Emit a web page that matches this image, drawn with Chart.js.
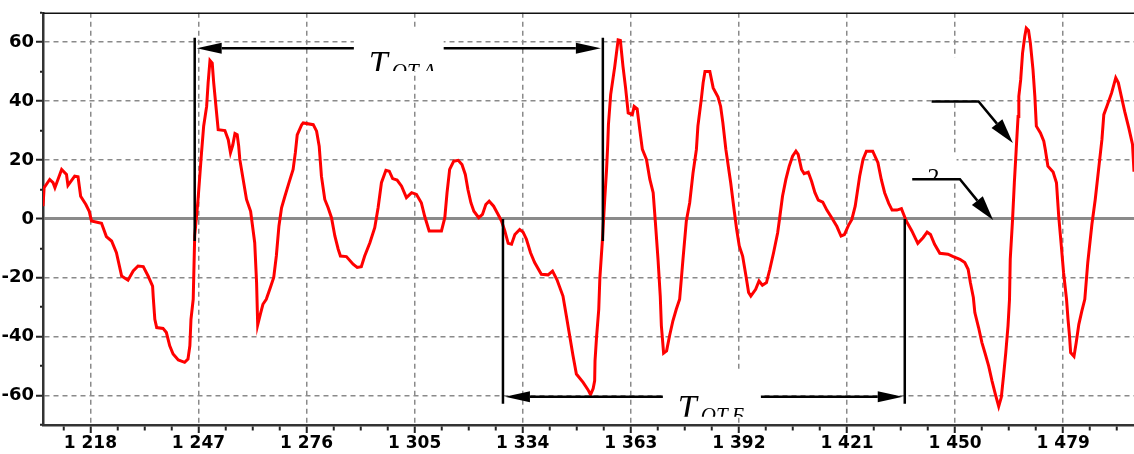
<!DOCTYPE html>
<html>
<head>
<meta charset="utf-8">
<script src="https://cdn.jsdelivr.net/npm/chart.js@4"></script>
<style>
  html, body { margin: 0; padding: 0; background: #fff; overflow: hidden; }
</style>
</head>
<body>
<canvas id="signalChart" width="1134" height="454"></canvas>
<script>
// sample positions and signal values
const sampleX = [
  1205.3, 1205.6, 1207.1, 1208.0, 1208.5, 1210.3, 1211.6, 1212.0, 1213.8, 1214.7,
  1215.4, 1216.8, 1217.7, 1218.3, 1221.0, 1222.3, 1223.7, 1225.0, 1226.4, 1228.1,
  1229.5, 1230.8, 1232.2, 1233.5, 1234.7, 1234.9, 1235.3, 1235.8, 1237.5, 1238.4,
  1239.3, 1240.2, 1241.6, 1243.3, 1244.2, 1244.7, 1245.0, 1245.6, 1246.0, 1246.9,
  1247.8, 1248.4, 1249.2, 1249.6, 1250.1, 1250.7, 1251.1, 1251.7, 1252.3, 1254.1,
  1255.0, 1255.6, 1256.2, 1256.8, 1257.4, 1257.8, 1258.1, 1259.9, 1261.0, 1262.1,
  1262.6, 1262.9, 1263.6, 1264.3, 1265.2, 1266.3, 1267.2, 1267.9, 1268.6, 1269.3,
  1270.2, 1271.3, 1272.4, 1273.0, 1273.5, 1274.7, 1275.1, 1277.8, 1278.7, 1279.4,
  1280.0, 1280.9, 1281.8, 1282.7, 1283.6, 1284.5, 1285.1, 1286.7, 1288.5, 1289.6,
  1290.7, 1291.6, 1293.0, 1294.3, 1295.2, 1296.1, 1297.3, 1298.2, 1299.1, 1300.3,
  1301.5, 1302.8, 1304.2, 1305.5, 1306.8, 1307.7, 1308.9, 1312.2, 1313.1, 1313.7,
  1314.4, 1315.5, 1316.7, 1317.7, 1318.6, 1319.3, 1320.1, 1320.9, 1322.2, 1323.2,
  1324.1, 1325.0, 1326.2, 1327.4, 1328.3, 1329.2, 1330.1, 1331.0, 1331.9, 1333.2,
  1334.1, 1335.0, 1336.1, 1337.2, 1339.0, 1340.8, 1342.0, 1343.2, 1344.8, 1345.7,
  1346.6, 1347.5, 1348.4, 1350.2, 1351.5, 1352.2, 1352.9, 1353.3, 1353.4, 1353.8,
  1354.4, 1354.7, 1355.4, 1356.0, 1356.5, 1356.8, 1357.0, 1357.6, 1358.7, 1359.6,
  1360.2, 1360.9, 1361.6, 1362.3, 1363.4, 1363.9, 1364.7, 1365.4, 1366.1, 1367.2,
  1368.1, 1369.0, 1369.6, 1370.3, 1370.9, 1371.2, 1371.8, 1372.6, 1373.4, 1374.3,
  1375.2, 1376.1, 1377.0, 1377.9, 1378.8, 1379.7, 1380.6, 1381.0, 1381.9, 1382.4,
  1382.9, 1384.2, 1385.1, 1386.4, 1387.1, 1387.7, 1388.5, 1389.8, 1390.7, 1391.4,
  1392.1, 1393.0, 1393.9, 1394.6, 1395.2, 1396.5, 1397.4, 1398.3, 1399.4, 1400.3,
  1401.3, 1402.4, 1403.0, 1403.7, 1404.6, 1405.5, 1406.4, 1407.3, 1407.9, 1408.8,
  1409.5, 1410.6, 1411.5, 1412.4, 1413.3, 1414.5, 1415.6, 1416.9, 1418.3, 1419.4,
  1420.3, 1421.4, 1422.3, 1423.2, 1424.4, 1425.3, 1426.2, 1427.9, 1429.3, 1430.2,
  1431.1, 1432.2, 1433.1, 1434.4, 1435.6, 1436.9, 1438.4, 1440.0, 1441.4, 1442.5,
  1443.4, 1444.5, 1445.9, 1448.1, 1449.5, 1451.3, 1452.6, 1453.5, 1454.1, 1454.9,
  1455.3, 1456.3, 1457.2, 1458.1, 1459.0, 1459.9, 1460.8, 1461.7, 1462.4, 1463.0,
  1463.6, 1464.2, 1464.6, 1464.8, 1465.4, 1465.9, 1466.4, 1466.9, 1467.1, 1467.6,
  1468.1, 1468.7, 1469.1, 1469.7, 1470.2, 1470.9, 1471.4, 1471.8, 1472.9, 1473.8,
  1474.2, 1474.9, 1476.3, 1477.2, 1477.8, 1478.5, 1479.1, 1479.9, 1480.3, 1480.7,
  1481.0, 1481.9, 1482.5, 1483.2, 1484.0, 1484.8, 1485.6, 1486.7, 1487.6, 1488.5,
  1489.4, 1489.9, 1490.8, 1492.0, 1493.1, 1493.8, 1494.6, 1495.5, 1496.6, 1497.6,
  1498.0
];
const signal = [
  4.3, 10.6, 13.4, 12.3, 10.6, 16.8, 15.1, 11.4, 14.5, 14.3,
  7.7, 4.9, 2.6, -0.7, -1.5, -6.0, -7.5, -11.5, -19.4, -20.8,
  -17.7, -16.0, -16.2, -19.4, -22.8, -27.0, -34.1, -36.9, -37.2, -38.6,
  -43.1, -45.9, -47.9, -48.7, -47.6, -43.1, -34.1, -27.3, -5.8, 6.6,
  22.0, 31.5, 38.2, 46.2, 53.8, 52.9, 46.2, 38.2, 30.3, 30.0,
  26.9, 22.5, 25.0, 29.0, 28.6, 24.7, 20.2, 6.6, 2.6, -8.1,
  -21.6, -36.0, -32.4, -29.0, -27.3, -23.3, -19.9, -12.6, -2.4, 3.8,
  7.7, 12.3, 16.8, 22.5, 28.5, 32.0, 32.6, 32.0, 29.8, 24.7,
  14.5, 6.6, 3.8, 0.4, -5.8, -10.3, -12.6, -12.8, -15.4, -16.5,
  -16.2, -12.6, -8.1, -3.0, 3.8, 12.3, 16.5, 16.2, 13.7, 13.2,
  11.1, 7.2, 8.9, 8.3, 5.5, 0.9, -4.1, -4.1, 0.4, 8.9,
  16.8, 19.6, 19.9, 18.5, 15.1, 10.0, 5.5, 2.6, 0.4, 1.5,
  4.9, 6.0, 4.3, 1.5, -0.7, -4.1, -8.3, -8.6, -5.3, -3.6,
  -4.5, -6.9, -11.5, -14.8, -18.8, -19.0, -17.7, -20.7, -26.2, -32.9,
  -39.7, -46.5, -52.7, -55.5, -58.0, -59.7, -57.6, -55.0, -48.2, -40.3,
  -30.7, -20.0, -6.9, 6.6, 16.8, 25.0, 32.0, 42.2, 51.8, 60.8,
  60.6, 51.8, 44.5, 36.0, 35.4, 38.2, 37.4, 30.3, 23.6, 20.2,
  13.5, 8.9, -1.3, -13.7, -26.2, -36.3, -45.6, -44.8, -39.7, -34.6,
  -30.7, -27.3, -13.7, -0.7, 5.5, 15.7, 23.6, 31.5, 40.5, 46.2,
  50.1, 50.1, 44.5, 41.4, 38.2, 32.6, 23.6, 12.3, 3.2, -3.6,
  -9.2, -12.6, -19.4, -25.0, -26.2, -23.9, -21.1, -22.5, -21.6, -17.1,
  -11.5, -4.7, 0.9, 7.7, 13.4, 17.9, 21.3, 23.0, 21.9, 16.8,
  15.4, 15.9, 12.8, 8.9, 6.4, 5.7, 3.0, 0.4, -2.6, -5.8,
  -5.3, -2.2, -0.2, 4.3, 14.5, 20.2, 23.0, 23.0, 19.1, 13.4,
  8.9, 5.3, 3.0, 3.0, 3.5, -0.7, -4.1, -8.3, -6.4, -4.5,
  -5.3, -8.6, -11.7, -12.0, -12.8, -13.7, -14.8, -17.1, -21.6, -26.7,
  -31.8, -36.9, -42.0, -45.9, -49.9, -55.0, -59.5, -63.7, -60.6, -53.3,
  -45.4, -36.3, -27.3, -13.7, -0.7, 12.3, 23.6, 34.8, 41.6, 47.3,
  56.3, 62.0, 64.8, 64.0, 59.7, 50.7, 41.6, 31.5, 29.2, 26.4,
  23.6, 17.9, 15.9, 12.3, 0.9, -9.2, -18.2, -27.3, -34.1, -39.7,
  -45.4, -46.7, -42.0, -35.8, -31.3, -27.3, -14.8, -1.9, 6.6, 16.8,
  27.0, 35.4, 38.5, 42.8, 47.9, 46.2, 41.6, 36.5, 30.9, 25.3,
  16.0
];

const xMajorTicks = [1218, 1247, 1276, 1305, 1334, 1363, 1392, 1421, 1450, 1479];
const yMajorTicks = [-60, -40, -20, 0, 20, 40, 60];

const X_MIN = 1205.3, X_MAX = 1498;
const Y_MIN = -70, Y_MAX = 70;
const MINOR_STEP = 7.25;

// all x tick positions: majors plus 3 minors between them
const xTickValues = [];
for (let v = xMajorTicks[0] - MINOR_STEP; v <= X_MAX; v += MINOR_STEP) {
  if (v >= X_MIN) xTickValues.push(v);
}
const yTickValues = [];
for (let v = Y_MIN; v <= Y_MAX; v += 10) yTickValues.push(v);

// interval markers, in chart units
const intervals = [
  { from: 1246.0, to: 1355.5, top: 61.5, bottom: -7.5, arrowY: 58.0,
    box: { x0: 1288.7, x1: 1312.8, y0: 65.2, y1: 50.2 }, sub: 'ОТ.А' },
  { from: 1328.7, to: 1436.5, top: 0, bottom: -62.8, arrowY: -60.4,
    box: { x0: 1371.6, x1: 1397.9, y0: -51.5, y1: -67.2 }, sub: 'ОТ.Б' }
];
const leaders = [
  { x0: 1443.7, x1: 1456.3, y: 39.9, tipX: 1465.5, tipY: 25.8,
    box: { x0: 1443.2, x1: 1462.0, y0: 54.8, y1: 40.4 }, text: '' },
  { x0: 1438.5, x1: 1451.3, y: 13.5, tipX: 1460.2, tipY: -0.4,
    box: { x0: 1437.8, x1: 1450.4, y0: 22.6, y1: 13.9 }, text: '2' }
];

const fmtThousands = v => Math.floor(v / 1000) + ' ' + String(v % 1000).padStart(3, '0');

function arrowHead(ctx, fx, fy, tx, ty, len, half) {
  const a = Math.atan2(ty - fy, tx - fx);
  const bx = tx - len * Math.cos(a), by = ty - len * Math.sin(a);
  ctx.beginPath();
  ctx.moveTo(tx, ty);
  ctx.lineTo(bx + half * Math.sin(a), by - half * Math.cos(a));
  ctx.lineTo(bx - half * Math.sin(a), by + half * Math.cos(a));
  ctx.closePath();
  ctx.fill();
  return [bx, by];
}

const overlay = {
  id: 'overlay',
  afterDraw(chart) {
    const { ctx, chartArea, scales: { x, y } } = chart;
    ctx.save();
    // top frame line
    ctx.strokeStyle = '#111';
    ctx.lineWidth = 1.5;
    ctx.beginPath();
    ctx.moveTo(chartArea.left, chartArea.top + 0.5);
    ctx.lineTo(chartArea.right, chartArea.top + 0.5);
    ctx.stroke();

    ctx.fillStyle = '#000';
    ctx.strokeStyle = '#000';
    ctx.lineWidth = 2.5;

    intervals.forEach(iv => {
      const bx0 = x.getPixelForValue(iv.box.x0), bx1 = x.getPixelForValue(iv.box.x1);
      const by0 = y.getPixelForValue(iv.box.y0), by1 = y.getPixelForValue(iv.box.y1);
      ctx.fillStyle = '#fff';
      ctx.fillRect(bx0, by0, bx1 - bx0, by1 - by0);
      ctx.fillStyle = '#000';

      const xa = x.getPixelForValue(iv.from), xb = x.getPixelForValue(iv.to);
      const yt = y.getPixelForValue(iv.top), yb = y.getPixelForValue(iv.bottom);
      ctx.beginPath();
      ctx.moveTo(xa, yt); ctx.lineTo(xa, yb);
      ctx.moveTo(xb, yt); ctx.lineTo(xb, yb);
      ctx.stroke();

      const ay = y.getPixelForValue(iv.arrowY);
      const lb = arrowHead(ctx, bx0, ay, xa + 2, ay, 25, 5.5);
      const rb = arrowHead(ctx, bx1, ay, xb - 2, ay, 25, 5.5);
      ctx.beginPath();
      ctx.moveTo(lb[0], ay); ctx.lineTo(bx0, ay);
      ctx.moveTo(bx1, ay); ctx.lineTo(rb[0], ay);
      ctx.stroke();

      // label, clipped by its box
      ctx.save();
      ctx.beginPath();
      ctx.rect(bx0, by0, bx1 - bx0, by1 - by0);
      ctx.clip();
      ctx.textBaseline = 'alphabetic';
      ctx.font = 'italic 34px "Liberation Serif"';
      const tx = bx0 + 15, tBase = by0 + 47;
      ctx.fillText('T', tx, tBase);
      ctx.font = 'italic 21px "Liberation Serif"';
      ctx.fillText(iv.sub, tx + 23, tBase + 4.5);
      ctx.restore();
    });

    leaders.forEach(ld => {
      const bx0 = x.getPixelForValue(ld.box.x0), bx1 = x.getPixelForValue(ld.box.x1);
      const by0 = y.getPixelForValue(ld.box.y0), by1 = y.getPixelForValue(ld.box.y1);
      ctx.fillStyle = '#fff';
      ctx.fillRect(bx0, by0, bx1 - bx0, by1 - by0);
      ctx.fillStyle = '#000';
      if (ld.text) {
        ctx.save();
        ctx.beginPath();
        ctx.rect(bx0, by0, bx1 - bx0, by1 - by0);
        ctx.clip();
        ctx.font = '24px "Liberation Serif"';
        ctx.textBaseline = 'alphabetic';
        ctx.fillText(ld.text, bx0 + 18, by1 + 6);
        ctx.restore();
      }
      const p0x = x.getPixelForValue(ld.x0), p1x = x.getPixelForValue(ld.x1);
      const py = y.getPixelForValue(ld.y);
      const tipx = x.getPixelForValue(ld.tipX), tipy = y.getPixelForValue(ld.tipY);
      const base = arrowHead(ctx, p1x, py, tipx, tipy, 25, 7);
      ctx.beginPath();
      ctx.moveTo(p0x, py);
      ctx.lineTo(p1x, py);
      ctx.lineTo(base[0], base[1]);
      ctx.stroke();
    });
    ctx.restore();
  }
};

const gridGray = '#8a8a8a';

const config = {
  type: 'line',
  data: {
    datasets: [{
      data: sampleX.map((v, i) => ({ x: v, y: signal[i] })),
      borderColor: '#ff0000',
      borderWidth: 3,
      pointRadius: 0,
      tension: 0,
      fill: false
    }]
  },
  options: {
    responsive: false,
    animation: false,
    devicePixelRatio: 1,
    layout: { padding: { top: 12, right: 0, left: 0, bottom: 0 } },
    plugins: {
      legend: { display: false },
      tooltip: { enabled: false },
      title: { display: false }
    },
    scales: {
      x: {
        type: 'linear',
        min: X_MIN,
        max: X_MAX,
        afterBuildTicks: s => { s.ticks = xTickValues.map(v => ({ value: v })); },
        afterFit: s => { s.height = 29; },
        ticks: {
          autoSkip: false,
          maxRotation: 0,
          padding: 0,
          color: '#000',
          font: { family: 'DejaVu Sans', weight: 'bold', size: 17 },
          callback: v => xMajorTicks.includes(v) ? fmtThousands(v) : ''
        },
        grid: {
          color: c => (c.tick && xMajorTicks.includes(c.tick.value)) ? gridGray : 'rgba(0,0,0,0)',
          lineWidth: 1.5,
          tickLength: 8,
          tickColor: '#222',
          tickWidth: 2,
          tickBorderDash: c => (c.tick && xMajorTicks.includes(c.tick.value)) ? [] : [4, 30]
        },
        border: { display: true, color: '#333', width: 2.5, dash: [5, 4] }
      },
      y: {
        min: Y_MIN,
        max: Y_MAX,
        afterBuildTicks: s => { s.ticks = yTickValues.map(v => ({ value: v })); },
        afterFit: s => { s.width = 43; },
        ticks: {
          padding: 2,
          color: '#000',
          font: { family: 'DejaVu Sans', weight: 'bold', size: 18 },
          callback: v => yMajorTicks.includes(v) ? String(v) : ''
        },
        grid: {
          color: c => (c.tick && yMajorTicks.includes(c.tick.value)) ? gridGray : 'rgba(0,0,0,0)',
          lineWidth: c => (c.tick && c.tick.value === 0) ? 3 : 1.5,
          tickLength: 7,
          tickColor: '#222',
          tickWidth: 2,
          tickBorderDash: c => (c.tick && yMajorTicks.includes(c.tick.value)) ? [] : [0, 4, 3, 30]
        },
        border: {
          display: true, color: '#333', width: 2.5,
          dash: c => (c.tick && c.tick.value === 0) ? [] : [5, 4]
        }
      }
    }
  },
  plugins: [overlay]
};

new Chart(document.getElementById('signalChart'), config);
</script>
</body>
</html>
